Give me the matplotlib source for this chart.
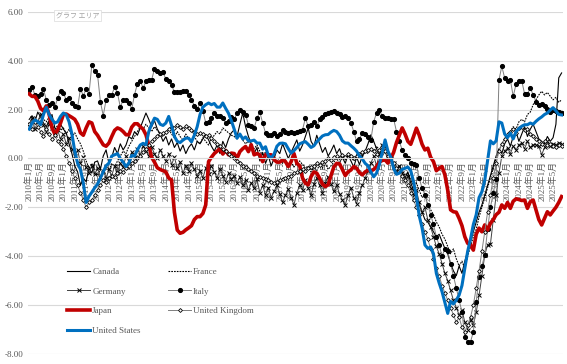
import matplotlib
matplotlib.use("Agg")
import matplotlib.pyplot as plt
import numpy as np

# monthly series, Jan 2010 .. Aug 2025
start_year = 2010
n_months = 188

canada = [
    1.60, 1.75, 1.50, 1.90, 1.70, 1.45, 1.30, 1.55, 1.80, 1.25, 1.10, 1.40,
    1.20, 1.05, 0.60, 0.20, -0.30, -0.55, -1.10, -0.80, -0.95, -0.40, -0.60, -0.15,
    -0.10, -0.45, 0.10, 0.35, -0.20, 0.05, 0.45, 0.20, 0.60, 0.35, 0.55, 0.90,
    0.80, 1.10, 0.95, 1.25, 1.55, 1.86, 1.60, 1.30, 1.55, 1.20, 1.00, 0.70,
    0.90, 0.55, 0.80, 0.45, 0.65, 0.30, 0.55, 0.20, 0.45, 0.60, 0.35, 0.70,
    0.60, 0.80, 0.97, 0.76, 0.50, 0.30, 0.55, 0.20, 0.70, 0.45, 0.80, 1.05,
    1.17, 0.90, 1.40, 1.86, 1.30, 0.90, 0.60, 0.20, 0.45, -0.10, 0.25, -0.20,
    0.10, -0.30, 0.00, 0.35, 0.20, 0.60, 0.30, 0.00, 0.25, 0.50, 0.76, 0.30,
    0.55, 0.90, 1.25, 0.70, 0.50, 0.95, 0.60, 0.25, 0.45, 0.10, 0.30, 0.55,
    0.20, 0.40, 0.05, -0.20, 0.15, -0.10, -0.35, 0.05, -0.25, 0.10, 0.30, 0.60,
    0.97, 0.70, 0.40, 0.10, 0.35, 0.50, 0.20, 0.00, -0.20, -0.45, -0.30, -0.60,
    -0.80, -0.55, -1.00, -1.30, -1.60, -1.90, -2.20, -2.50, -2.60, -2.80, -3.00, -3.20,
    -3.10, -3.40, -3.68, -3.90, -4.30, -4.60, -4.80, -4.40, -4.70, -4.20, -3.80, -3.40,
    -3.00, -2.60, -2.20, -1.90, -1.50, -1.10, -0.70, -0.30, 0.10, 0.40, 0.20, 0.60,
    0.80, 0.50, 0.90, 1.10, 0.70, 1.00, 1.30, 0.90, 1.20, 1.40, 1.10, 0.80,
    0.70, 0.60, 0.90, 0.70, 0.85, 1.40, 3.30, 3.50,
]

france = [
    1.30, 1.55, 1.70, 1.45, 1.80, 1.60, 1.50, 1.70, 1.40, 1.20, 1.35, 1.15,
    1.25, 1.00, 1.20, 0.90, 1.05, 0.80, 0.60, 0.30, -0.10, -0.40, -0.20, -0.55,
    -0.70, -0.45, -0.60, -0.30, -0.50, -0.20, -0.35, -0.10, 0.10, 0.30, 0.20, 0.50,
    0.70, 0.90, 1.10, 1.30, 1.20, 1.40, 1.25, 1.10, 1.30, 1.15, 1.00, 0.90,
    1.05, 1.20, 1.00, 0.85, 1.10, 0.90, 0.75, 1.00, 0.80, 0.65, 0.90, 0.70,
    0.60, 0.85, 0.70, 0.55, 0.80, 0.95, 1.10, 1.00, 1.25, 1.15, 1.05, 0.95,
    0.90, 0.80, 1.00, 0.75, 0.60, 0.70, 0.50, 0.40, 0.55, 0.30, 0.15, 0.25,
    0.10, -0.05, 0.15, -0.10, 0.05, -0.20, -0.05, -0.30, -0.15, -0.35, -0.20, -0.10,
    -0.25, -0.40, -0.30, -0.55, -0.35, -0.50, -0.25, -0.40, -0.20, -0.45, -0.30, -0.15,
    0.00, -0.20, 0.10, -0.05, 0.20, 0.05, -0.10, 0.15, 0.25, 0.05, 0.30, 0.20,
    0.40, 0.25, 0.50, 0.35, 0.10, 0.30, 0.05, -0.10, -0.20, -0.40, -0.30, -0.50,
    -0.70, -0.60, -0.90, -1.10, -1.00, -1.30, -1.60, -1.50, -1.90, -2.10, -2.30, -2.60,
    -2.80, -3.10, -3.30, -3.60, -3.90, -3.70, -4.10, -4.40, -4.20, -4.50, -4.00, -3.60,
    -3.20, -2.90, -2.40, -2.00, -1.60, -1.20, -0.80, -0.40, 0.00, 0.30, 0.60, 0.80,
    1.00, 1.10, 1.30, 1.20, 1.50, 1.60, 1.50, 1.80, 1.90, 2.20, 2.40, 2.60,
    2.75, 2.60, 2.70, 2.55, 2.40, 2.50, 2.30, 2.40,
]

germany = [
    1.40, 1.65, 1.20, 1.50, 1.80, 1.35, 1.10, 1.40, 1.25, 0.95, 1.15, 0.80,
    1.00, 0.60, 0.85, 0.40, 0.10, 0.35, -0.20, 0.05, -0.35, -0.60, -0.30, -0.65,
    -0.40, -0.75, -0.50, -0.80, -0.45, -0.70, -0.30, -0.55, -0.20, -0.35, 0.10, -0.10,
    0.25, 0.05, 0.40, 0.15, 0.50, 0.30, 0.10, 0.45, 0.20, 0.00, 0.35, 0.10,
    -0.10, 0.20, -0.25, 0.05, -0.40, -0.15, -0.60, -0.30, -0.50, -0.20, -0.45, -0.70,
    -0.50, -0.80, -0.40, -0.65, -0.30, -0.55, -0.80, -0.45, -0.70, -0.95, -0.60, -0.85,
    -0.70, -1.00, -0.75, -1.10, -0.90, -1.30, -1.00, -1.20, -0.85, -1.40, -1.10, -1.50,
    -1.20, -1.60, -1.35, -1.10, -1.45, -1.80, -1.50, -1.25, -1.60, -1.90, -1.40, -1.10,
    -1.30, -0.90, -1.20, -1.50, -1.05, -0.80, -1.10, -1.40, -1.00, -0.75, -1.05, -1.35,
    -1.10, -1.45, -1.70, -1.90, -1.50, -1.20, -1.60, -1.85, -1.40, -1.10, -0.80, -0.50,
    -0.20, 0.10, -0.30, 0.20, 0.56, 0.30, -0.10, 0.15, -0.20, -0.50, -0.30, -0.60,
    -0.90, -0.70, -1.20, -1.50, -1.30, -1.80, -2.20, -2.00, -2.50, -2.80, -3.20, -3.60,
    -3.90, -4.30, -4.70, -5.00, -5.40, -5.80, -6.10, -6.40, -6.20, -6.70, -7.00, -6.60,
    -6.80, -6.30, -5.60, -4.80, -3.95, -3.54, -3.50, -2.50, -1.50, -0.60, 0.10, 0.30,
    0.43, 0.20, 0.50, 0.35, 0.56, 0.63, 0.40, 0.70, 0.45, 0.56, 0.56, 0.50,
    0.15, 0.45, 0.70, 0.50, 0.60, 0.55, 0.65, 0.60,
]

italy = [
    2.81, 2.92, 2.61, 2.54, 2.65, 2.84, 2.40, 2.20, 2.29, 2.10, 2.47, 2.78,
    2.68, 2.40, 2.47, 2.29, 2.16, 2.10, 2.84, 2.57, 2.84, 2.64, 3.84, 3.56,
    3.43, 2.33, 1.75, 2.40, 2.61, 2.61, 2.92, 2.68, 2.10, 2.40, 2.40, 2.27,
    2.02, 2.61, 3.06, 3.19, 2.88, 3.15, 3.22, 3.22, 3.66, 3.56, 3.50, 3.52,
    3.25, 3.19, 3.02, 2.70, 2.70, 2.70, 2.77, 2.78, 2.61, 2.40, 2.16, 2.02,
    2.27, 1.95, 1.46, 1.51, 1.65, 1.86, 1.75, 1.72, 1.65, 1.45, 1.55, 1.70,
    1.60, 1.86, 1.99, 1.92, 1.79, 1.38, 1.31, 1.24, 1.65, 1.90, 1.45, 1.04,
    0.97, 0.97, 1.04, 0.90, 1.00, 1.17, 1.10, 1.04, 1.10, 1.05, 1.10, 1.12,
    1.17, 1.65, 1.31, 1.35, 1.51, 1.31, 1.60, 1.70, 1.80, 1.88, 1.92, 1.95,
    1.88, 1.84, 1.70, 1.75, 1.65, 1.45, 1.10, 0.70, 0.80, 1.05, 1.00, 0.88,
    0.76, 1.51, 1.86, 1.99, 1.72, 1.65, 1.65, 1.62, 1.62, 1.10, 0.70, 0.35,
    0.15, 0.01, -0.19, -0.22, -0.26, -0.81, -1.22, -1.49, -1.90, -2.30, -2.70, -3.20,
    -3.55, -4.00, -3.70, -3.80, -4.30, -4.80, -5.30, -5.80, -6.27, -7.30, -7.50, -7.50,
    -7.10, -5.86, -4.84, -4.40, -3.95, -2.90, -2.00, -1.40, -0.85, 3.22, 3.77, 3.29,
    3.15, 3.22, 2.54, 3.04, 3.15, 3.18, 2.64, 2.64, 2.88, 2.61, 2.33, 2.20,
    2.23, 2.13, 2.03, 1.92, 1.99, 1.95, 1.90, 1.85,
]

japan = [
    2.64, 2.54, 2.54, 2.35, 2.05, 1.95, 2.15, 1.80, 1.25, 1.00, 1.17, 1.45,
    1.80, 1.82, 1.75, 1.68, 1.60, 1.40, 1.05, 0.95, 1.25, 1.50, 1.45, 1.10,
    0.95, 0.75, 0.56, 0.50, 0.63, 0.90, 1.15, 1.25, 1.20, 1.10, 0.97, 0.97,
    1.28, 1.42, 1.42, 1.30, 1.20, 0.97, 0.55, 0.05, -0.15, -0.38, -0.45, -0.50,
    -0.55, -0.80, -0.88, -2.20, -2.93, -3.06, -3.02, -2.92, -2.84, -2.75, -2.50, -2.38,
    -2.38, -2.25, -1.90, -0.13, 0.05, 0.20, 0.30, 0.40, 0.18, 0.33, 0.15, 0.22,
    0.20, 0.01, 0.28, 0.40, 0.49, 0.28, 0.56, 0.15, 0.20, 0.15, -0.13, 0.15,
    0.15, 0.15, -0.05, -0.15, -0.15, -0.06, -0.13, -0.33, -0.13, 0.20, -0.20, -0.30,
    -0.80, -1.01, -1.08, -0.74, -0.55, -0.60, -0.81, -1.05, -1.15, -1.08, -0.70, -0.35,
    -0.20, -0.22, -0.45, -0.70, -0.55, -0.47, -0.33, -0.40, -0.58, -0.67, -0.55, -0.48,
    -0.50, -0.45, -0.33, -0.15, -0.08, -0.06, -0.19, 0.00, 0.25, 0.65, 0.95, 1.25,
    1.00, 0.70, 0.58, 0.90, 1.24, 0.95, 0.58, 0.35, 0.42, 0.05, -0.13, -0.50,
    -0.40, -0.33, -0.67, -1.30, -2.10, -2.18, -2.20, -2.45, -2.75, -3.20, -3.47, -3.54,
    -3.75, -3.10, -2.85, -3.00, -2.72, -2.93, -2.65, -2.50, -2.30, -2.20, -1.90, -2.04,
    -1.80, -2.04, -1.75, -1.65, -1.68, -1.72, -1.70, -2.04, -1.77, -1.70, -2.10, -2.50,
    -2.72, -2.45, -2.18, -2.31, -2.15, -2.00, -1.80, -1.56,
]

uk = [
    1.40, 1.20, 1.50, 1.30, 1.10, 0.90, 1.20, 1.00, 0.80, 0.95, 0.70, 0.60,
    0.40, 0.10, -0.20, -0.50, -0.80, -1.10, -1.40, -1.70, -2.00, -1.80, -1.70, -1.50,
    -1.30, -1.10, -0.90, -0.95, -0.80, -0.70, -0.75, -0.60, -0.50, -0.55, -0.40, -0.30,
    -0.20, -0.10, 0.00, 0.10, 0.25, 0.40, 0.55, 0.70, 0.80, 0.90, 1.00, 1.05,
    1.10, 1.20, 1.30, 1.25, 1.35, 1.30, 1.20, 1.31, 1.25, 1.15, 1.10, 1.00,
    1.05, 1.00, 0.90, 0.95, 0.85, 0.70, 0.60, 0.50, 0.40, 0.30, 0.20, 0.10,
    0.00, -0.10, -0.20, -0.30, -0.35, -0.45, -0.50, -0.60, -0.70, -0.75, -0.80, -0.85,
    -0.90, -0.95, -1.00, -0.95, -0.90, -0.85, -0.80, -0.75, -0.70, -0.60, -0.55, -0.50,
    -0.45, -0.50, -0.40, -0.35, -0.30, -0.20, -0.25, -0.15, -0.10, 0.00, -0.05, 0.05,
    0.10, 0.00, 0.15, 0.05, 0.20, 0.10, 0.00, 0.10, 0.20, 0.25, 0.30, 0.35,
    0.40, 0.30, 0.20, 0.35, 0.45, 0.30, 0.10, 0.00, -0.20, -0.40, -0.50, -0.70,
    -0.90, -1.10, -1.40, -1.70, -2.00, -2.30, -2.70, -3.00, -3.30, -3.70, -4.10, -4.50,
    -4.80, -5.20, -5.50, -5.80, -6.10, -6.40, -6.70, -6.50, -6.90, -7.10, -6.80, -6.50,
    -6.00, -5.30, -4.60, -3.80, -3.00, -2.20, -1.50, -0.80, -0.20, 0.30, 0.60, 0.80,
    1.00, 1.10, 1.20, 1.05, 1.25, 1.30, 1.15, 1.20, 1.00, 0.90, 0.80, 0.70,
    0.60, 0.70, 0.55, 0.60, 0.50, 0.45, 0.55, 0.50,
]

us = [
    1.20, 1.45, 1.58, 1.51, 1.38, 1.79, 2.10, 1.80, 1.60, 1.45, 1.50, 1.72,
    1.86, 1.79, 1.50, 1.00, 0.30, -0.20, -0.45, -1.00, -1.80, -1.55, -1.38, -1.20,
    -1.05, -0.80, -0.55, -0.30, -0.19, 0.10, 0.15, 0.20, 0.00, -0.15, -0.33, -0.19,
    0.12, 0.10, 0.35, 0.55, 0.62, 0.56, 1.10, 1.40, 1.65, 1.60, 1.40, 1.35,
    1.45, 1.72, 1.35, 0.90, 0.70, 0.65, 0.75, 0.83, 0.83, 0.68, 0.95, 1.30,
    1.80, 2.10, 2.20, 2.27, 2.20, 2.25, 2.10, 2.10, 2.27, 2.05, 1.85, 1.55,
    1.20, 0.83, 1.00, 0.80, 0.88, 0.72, 0.72, 0.75, 0.63, 0.63, 0.38, 0.48,
    0.12, 0.02, 0.18, 0.50, 0.62, 0.63, 0.60, 0.40, 0.22, 0.32, 0.45, 0.60,
    0.65, 0.69, 0.58, 0.45, 0.52, 0.68, 0.80, 0.92, 0.97, 0.98, 1.08, 1.15,
    1.10, 0.95, 0.72, 0.63, 0.63, 0.52, 0.42, 0.30, 0.10, -0.02, -0.20, -0.30,
    -0.55, -0.75, -0.60, -0.25, 0.25, 0.76, 0.30, 0.05, -0.40, -0.65, -0.60, -0.45,
    -0.40, -0.35, -0.50, -0.95, -1.55, -2.35, -2.85, -3.54, -3.68, -3.62, -3.90, -4.70,
    -5.10, -5.45, -5.90, -6.34, -5.85, -5.95, -5.80, -5.59, -5.20, -4.50, -3.80, -3.30,
    -2.70, -2.30, -1.60, -1.36, -0.90, -0.10, 0.72, 0.60, 0.72, 1.50, 1.45, 1.00,
    0.85, 1.04, 0.80, 1.10, 1.22, 1.32, 1.38, 1.38, 1.45, 1.40, 1.52, 1.62,
    1.70, 1.80, 1.86, 1.98, 2.08, 1.95, 1.80, 1.78,
]

labels = ["Canada", "France", "Germany", "Italy", "Japan", "United Kingdom", "United States"]
yticks = [6, 4, 2, 0, -2, -4, -6, -8]

serif = ["Liberation Serif", "DejaVu Serif"]
jp = ["Liberation Serif", "Noto Sans CJK JP"]
grey_txt = "#595959"

fig = plt.figure(figsize=(5.67, 3.64), dpi=100)
ax = fig.add_axes([0.049, 0.0275, 0.944, 0.94])

x = np.arange(n_months)
h_ca, = ax.plot(x, canada, color="#000000", lw=0.8, label=labels[0])
h_fr, = ax.plot(x, france, color="#000000", lw=0.8, ls=(0, (1.5, 1)), label=labels[1])
h_de, = ax.plot(x, germany, color="#404040", lw=0.7, marker="x", ms=3.0, mew=0.7,
                mec="#000000", label=labels[2])
h_it, = ax.plot(x, italy, color="#7f7f7f", lw=0.7, marker="o", ms=2.7, mfc="#000000",
                mec="#000000", label=labels[3])
h_jp, = ax.plot(x, japan, color="#C00000", lw=2.6, label=labels[4])
h_uk, = ax.plot(x, uk, color="#7f7f7f", lw=0.7, marker="D", ms=2.0, mfc="white",
                mec="#000000", mew=0.6, label=labels[5])
h_us, = ax.plot(x, us, color="#0070C0", lw=2.2, label=labels[6])

ax.set_ylim(-8, 6)
ax.set_xlim(-0.5, n_months - 0.5)
ax.set_yticks(yticks)
ax.set_yticklabels([f"{v:.2f}" for v in yticks], family=serif, fontsize=6.5,
                   color=grey_txt)
ax.grid(axis="y", color="#d9d9d9", lw=0.8)
ax.set_axisbelow(True)
for s in ["top", "right", "left"]:
    ax.spines[s].set_visible(False)
ax.spines["bottom"].set_position(("data", 0))
ax.spines["bottom"].set_color("#d9d9d9")
ax.tick_params(axis="both", length=0, pad=3)

ticks = list(range(0, n_months, 4))
tick_labels = [f"{start_year + t // 12}年{t % 12 + 1}月" for t in ticks]
ax.set_xticks(ticks)
ax.set_xticklabels(tick_labels, rotation=90, fontsize=6.4, color=grey_txt,
                   family=jp, va="top", ha="center")
ax.tick_params(axis="x", pad=2)

# legend filled row by row like the original (2 columns)
order = [h_ca, h_de, h_jp, h_us, h_fr, h_it, h_uk]
leg = ax.legend(handles=order, ncol=2, loc="upper left", bbox_to_anchor=(0.058, 0.276),
                frameon=False, prop={"family": serif, "size": 6.5},
                handlelength=2.6, handletextpad=0.2, columnspacing=3.0,
                labelspacing=1.25, borderpad=0.4)
for t in leg.get_texts():
    t.set_color(grey_txt)

fig.text(0.099, 0.952, "グラフ エリア", fontsize=5, color="#a0a0a0",
         family=["Noto Sans CJK JP"],
         bbox=dict(boxstyle="square,pad=0.25", fc="white", ec="#e0e0e0", lw=0.6))

fig.savefig("out.png", dpi=100)
